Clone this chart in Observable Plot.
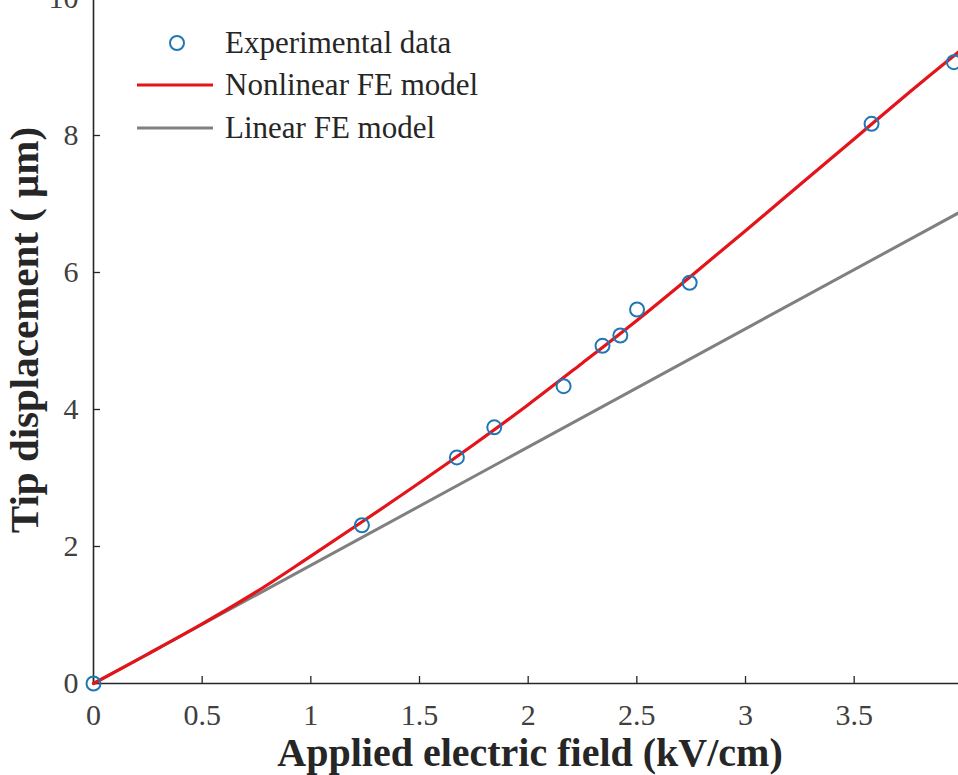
<!DOCTYPE html>
<html>
<head>
<meta charset="utf-8">
<script src="https://cdn.jsdelivr.net/npm/d3@7"></script>
<script src="https://cdn.jsdelivr.net/npm/@observablehq/plot@0.6"></script>
<style>
  html, body { margin: 0; padding: 0; background: #fff; }
  #chart { position: relative; width: 958px; height: 775px; }
  svg { font-family: "Liberation Serif", "Times New Roman", serif; }
</style>
</head>
<body>
<div id="chart"></div>
<script>
// Experimental data (kV/cm, µm)
const expField = [0, 1.235, 1.672, 1.844, 2.163, 2.342, 2.424, 2.501, 2.743, 3.580, 3.959];
const expDisp  = [0, 2.31, 3.30, 3.74, 4.34, 4.93, 5.08, 5.46, 5.85, 8.17, 9.07];

// Nonlinear FE model curve
const nlField = [0, 0.25, 0.5, 0.75, 1.0, 1.25, 1.5, 1.75, 2.0, 2.25, 2.5, 2.75, 3.0, 3.25, 3.5, 3.75, 3.98];
const nlDisp  = [0, 0.43, 0.87, 1.34, 1.86, 2.39, 2.93, 3.49, 4.07, 4.68, 5.30, 5.95, 6.61, 7.28, 7.95, 8.62, 9.22];

// Linear FE model
const linField = [0, 3.98];
const linDisp  = [0, 6.87];

// Axis ticks and labels
const xTicks = [0, 0.5, 1, 1.5, 2, 2.5, 3, 3.5];
const xTickLabels = ["0", "0.5", "1", "1.5", "2", "2.5", "3", "3.5"];
const yTicks = [0, 2, 4, 6, 8, 10];
const yTickLabels = ["0", "2", "4", "6", "8", "10"];

const xTitle = "Applied electric field (kV/cm)";
const yTitle = "Tip displacement ( \u03bcm)";

const legendLabels = ["Experimental data", "Nonlinear FE model", "Linear FE model"];

const expData = expField.map((x, i) => ({x, y: expDisp[i]}));
const nlData = nlField.map((x, i) => ({x, y: nlDisp[i]}));
const linData = linField.map((x, i) => ({x, y: linDisp[i]}));

const RED = "#e4141b";
const GRAY = "#808080";
const BLUE = "#1f77b4";
const AX = "#262626";
const FONT = "Liberation Serif, Times New Roman, serif";

const plot = Plot.plot({
  width: 958,
  height: 775,
  marginLeft: 93,
  marginRight: 0,
  marginTop: -2,
  marginBottom: 92,
  style: {fontFamily: FONT, background: "#fff", overflow: "visible"},
  x: {domain: [0, 3.98]},
  y: {domain: [0, 10]},
  marks: [
    Plot.axisX(xTicks, {
      tickSize: -7, tickPadding: 27, stroke: AX, strokeWidth: 1.3,
      tickFormat: (d) => xTickLabels[xTicks.indexOf(d)],
      fontSize: 30, fill: "#404040", label: null
    }),
    Plot.axisY(yTicks, {
      tickSize: -7, tickPadding: 22, stroke: AX, strokeWidth: 1.3,
      tickFormat: (d) => yTickLabels[yTicks.indexOf(d)],
      fontSize: 30, fill: "#404040", label: null
    }),
    Plot.ruleY([0], {stroke: AX, strokeWidth: 1.6}),
    Plot.ruleX([0], {stroke: AX, strokeWidth: 1.6}),
    Plot.line(linData, {x: "x", y: "y", stroke: GRAY, strokeWidth: 3}),
    Plot.line(nlData, {x: "x", y: "y", stroke: RED, strokeWidth: 3.2, curve: "catmull-rom"}),
    Plot.dot(expData, {x: "x", y: "y", r: 7, stroke: BLUE, strokeWidth: 2, fill: "none"})
  ]
});

document.getElementById("chart").appendChild(plot);

const svg = d3.select(plot);

// Axis titles
svg.append("text")
  .attr("x", 530).attr("y", 766)
  .attr("text-anchor", "middle")
  .attr("font-family", FONT).attr("font-size", 40).attr("font-weight", "bold")
  .attr("fill", AX).text(xTitle);
svg.append("text")
  .attr("transform", "translate(38,330) rotate(-90)")
  .attr("text-anchor", "middle")
  .attr("font-family", FONT).attr("font-size", 41).attr("font-weight", "bold")
  .attr("fill", AX).text(yTitle);

// Legend (inside the plot area, upper left)
const lg = svg.append("g").attr("font-family", FONT).attr("text-anchor", "start");
const rowsY = [43, 85, 128];
lg.append("circle").attr("cx", 177).attr("cy", rowsY[0]).attr("r", 7)
  .attr("fill", "none").attr("stroke", BLUE).attr("stroke-width", 2);
lg.append("line").attr("x1", 137).attr("x2", 213).attr("y1", rowsY[1]).attr("y2", rowsY[1])
  .attr("stroke", RED).attr("stroke-width", 3);
lg.append("line").attr("x1", 137).attr("x2", 213).attr("y1", rowsY[2]).attr("y2", rowsY[2])
  .attr("stroke", GRAY).attr("stroke-width", 3);
legendLabels.forEach((t, i) => {
  lg.append("text").attr("x", 225).attr("y", rowsY[i]).attr("dy", "0.32em")
    .attr("text-anchor", "start")
    .attr("font-size", 31).attr("fill", AX).text(t);
});
</script>
</body>
</html>
